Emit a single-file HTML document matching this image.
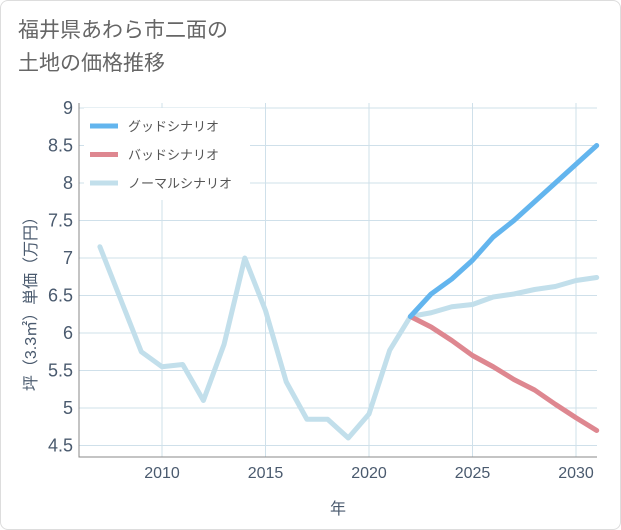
<!DOCTYPE html>
<html><head><meta charset="utf-8"><style>
body{margin:0;background:#fff;font-family:"Liberation Sans","Noto Sans CJK JP",sans-serif;}
.card{position:absolute;left:0;top:0;width:619px;height:528px;border:1px solid #ddd;border-radius:8px;background:#fff;}
.title{position:absolute;left:18px;top:14px;font-size:21px;line-height:33px;color:#666;}
</style></head><body>
<div class="card"></div>
<div class="title">福井県あわら市二面の<br>土地の価格推移</div>
<svg id="c" width="621" height="530" style="position:absolute;left:0;top:0"></svg>
<script>
const years=[2007,2008,2009,2010,2011,2012,2013,2014,2015,2016,2017,2018,2019,2020,2021,2022,2023,2024,2025,2026,2027,2028,2029,2030,2031];
const normal=[7.15,6.45,5.75,5.55,5.58,5.1,5.85,7.0,6.3,5.35,4.85,4.85,4.6,4.92,5.77,6.22,6.27,6.35,6.38,6.48,6.52,6.58,6.62,6.7,6.74];
const futureYears=[2022,2023,2024,2025,2026,2027,2028,2029,2030,2031];
const good=[6.22,6.52,6.72,6.97,7.28,7.5,7.75,8.0,8.25,8.5];
const bad=[6.22,6.08,5.9,5.7,5.55,5.38,5.24,5.05,4.87,4.7];
const yTicks=[4.5,5,5.5,6,6.5,7,7.5,8,8.5,9];
const yTickLabels=["4.5","5","5.5","6","6.5","7","7.5","8","8.5","9"];
const xTicks=[2010,2015,2020,2025,2030];
const L=79,R=597,T=103,B=457;
const x=v=>162+(v-2010)*20.7;
const y=v=>108+(9-v)*75;
const svg=document.getElementById('c');const NS='http://www.w3.org/2000/svg';
function mk(t,a,p){const e=document.createElementNS(NS,t);for(const k in a)e.setAttribute(k,a[k]);(p||svg).appendChild(e);return e;}
yTicks.forEach((v,i)=>{const g=mk('line',{x1:L,x2:R,y1:y(v),y2:y(v),stroke:'#cfe0ea','stroke-width':1});

const t=mk('text',{x:L-6,y:y(v)+6,'text-anchor':'end','font-size':18,fill:'#4a5a6e'});t.textContent=yTickLabels[i];
});
xTicks.forEach(v=>{const g=mk('line',{x1:x(v),x2:x(v),y1:T,y2:B,stroke:'#cfe0ea','stroke-width':1});

const t=mk('text',{x:x(v),y:B+21,'text-anchor':'middle','font-size':16,fill:'#4a5a6e'});t.textContent=v;
});
const ax=mk('path',{d:`M${L},${T}V${B}H${R}`,fill:'none',stroke:'#888','stroke-width':1});

const xt=mk('text',{x:338,y:514,'text-anchor':'middle','font-size':16,fill:'#4a5a6e'});xt.textContent='年';

const yt=mk('text',{x:0,y:0,'text-anchor':'middle','font-size':16,fill:'#4a5a6e',transform:'translate(36,300) rotate(-90)'});yt.textContent='坪（3.3㎡）単価（万円）';

function line(xs,vs,col,name){const d=vs.map((v,i)=>(i?'L':'M')+x(xs[i])+','+y(v)).join('');
const p=mk('path',{d,fill:'none',stroke:col,'stroke-width':5,'stroke-linejoin':'round','stroke-linecap':'round'});
}
line(years,normal,'#c2dfeb','normal-scenario-line');
line(futureYears,bad,'#de8790','bad-scenario-line');
line(futureYears,good,'#63b5ee','good-scenario-line');
const lg=mk('rect',{x:84,y:108,width:166,height:92,fill:'#fff'});
[['グッドシナリオ','#63b5ee'],['バッドシナリオ','#de8790'],['ノーマルシナリオ','#c2dfeb']].forEach((e,i)=>{const yy=126+i*28.5;
const s=mk('line',{x1:90,x2:118,y1:yy,y2:yy,stroke:e[1],'stroke-width':5});
const t=mk('text',{x:128,y:yy+5,'font-size':13,fill:'#555'});t.textContent=e[0];});
</script>
</body></html>
